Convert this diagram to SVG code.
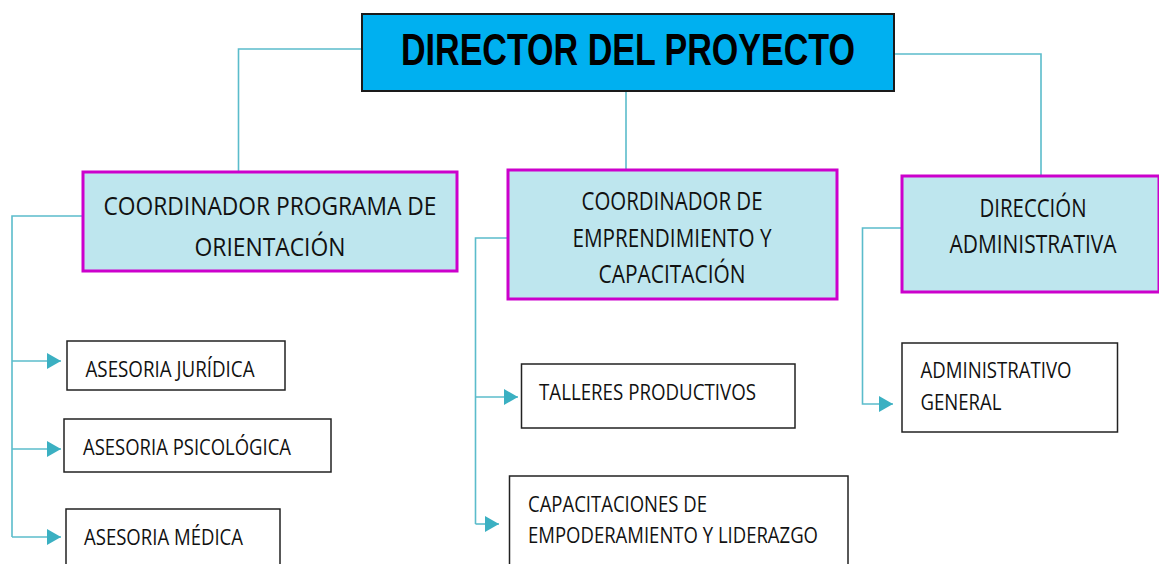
<svg xmlns="http://www.w3.org/2000/svg" width="1159" height="564" viewBox="0 0 1159 564">
<defs>
<style>
.conn{fill:none;stroke:#5BBCCB;stroke-width:1.6}
.arrow{fill:#3BB0C2}
.top{fill:#00B0F0;stroke:#1a1a1a;stroke-width:2}
.coord{fill:#BEE6EE;stroke:#CC00CC;stroke-width:3}
.leaf{fill:#FFFFFF;stroke:#222222;stroke-width:1.5}
.tt{font-family:"Liberation Sans",Arial,sans-serif;font-weight:bold;font-size:45px;fill:#000}
.ct{font-family:"Open Sans","DejaVu Sans",sans-serif;font-size:26px;fill:#111}
.lt{font-family:"Open Sans","DejaVu Sans",sans-serif;font-size:22px;fill:#111}
</style>
<marker id="ah" viewBox="0 0 14 16" refX="14" refY="8" markerWidth="14" markerHeight="16" markerUnits="userSpaceOnUse" orient="auto">
<path d="M0,0 L14,8 L0,16 Z" class="arrow"/>
</marker>
</defs>
<rect width="1159" height="564" fill="#FFFFFF"/>
<g id="connectors">
<polyline class="conn" points="362,49 238.5,49 238.5,171"/>
<line class="conn" x1="626" y1="91" x2="626" y2="170"/>
<polyline class="conn" points="894,54 1041,54 1041,176"/>
<polyline class="conn" points="83,216 12,216 12,537"/>
<line class="conn" x1="12" y1="361" x2="61" y2="361" marker-end="url(#ah)"/>
<line class="conn" x1="12" y1="449" x2="61" y2="449" marker-end="url(#ah)"/>
<line class="conn" x1="12" y1="537" x2="61" y2="537" marker-end="url(#ah)"/>
<polyline class="conn" points="508,238 475.5,238 475.5,524"/>
<line class="conn" x1="475.5" y1="397" x2="518" y2="397" marker-end="url(#ah)"/>
<line class="conn" x1="475.5" y1="524" x2="499" y2="524" marker-end="url(#ah)"/>
<polyline class="conn" points="902,228 862.5,228 862.5,404 893,404" marker-end="url(#ah)"/>
</g>
<g id="director">
<rect class="top" x="362" y="14" width="532" height="77"/>
<text class="tt" x="628" y="65" text-anchor="middle" textLength="454" lengthAdjust="spacingAndGlyphs">DIRECTOR DEL PROYECTO</text>
</g>
<g id="coord-orientacion">
<rect class="coord" x="83" y="172" width="374" height="99"/>
<text class="ct" x="270" y="215" text-anchor="middle" textLength="333" lengthAdjust="spacingAndGlyphs">COORDINADOR PROGRAMA DE</text>
<text class="ct" x="270" y="256" text-anchor="middle" textLength="151" lengthAdjust="spacingAndGlyphs">ORIENTACIÓN</text>
</g>
<g id="coord-emprendimiento">
<rect class="coord" x="508" y="170" width="329" height="129"/>
<text class="ct" x="672" y="210" text-anchor="middle" textLength="181" lengthAdjust="spacingAndGlyphs">COORDINADOR DE</text>
<text class="ct" x="672" y="247" text-anchor="middle" textLength="199" lengthAdjust="spacingAndGlyphs">EMPRENDIMIENTO Y</text>
<text class="ct" x="672" y="283" text-anchor="middle" textLength="147" lengthAdjust="spacingAndGlyphs">CAPACITACIÓN</text>
</g>
<g id="direccion-administrativa">
<rect class="coord" x="902" y="176" width="257" height="116"/>
<text class="ct" x="1033" y="217" text-anchor="middle" textLength="107" lengthAdjust="spacingAndGlyphs">DIRECCIÓN</text>
<text class="ct" x="1033" y="253" text-anchor="middle" textLength="167" lengthAdjust="spacingAndGlyphs">ADMINISTRATIVA</text>
</g>
<g id="asesoria-juridica">
<rect class="leaf" x="67" y="341" width="218" height="49"/>
<text class="lt" x="85.5" y="377" textLength="169" lengthAdjust="spacingAndGlyphs">ASESORIA JURÍDICA</text>
</g>
<g id="asesoria-psicologica">
<rect class="leaf" x="64" y="419" width="267" height="53"/>
<text class="lt" x="83" y="455" textLength="208" lengthAdjust="spacingAndGlyphs">ASESORIA PSICOLÓGICA</text>
</g>
<g id="asesoria-medica">
<rect class="leaf" x="66" y="509" width="214" height="70"/>
<text class="lt" x="84" y="545" textLength="159" lengthAdjust="spacingAndGlyphs">ASESORIA MÉDICA</text>
</g>
<g id="talleres-productivos">
<rect class="leaf" x="521.5" y="364" width="273.5" height="64"/>
<text class="lt" x="539" y="400" textLength="217" lengthAdjust="spacingAndGlyphs">TALLERES PRODUCTIVOS</text>
</g>
<g id="capacitaciones">
<rect class="leaf" x="509.5" y="476" width="338.5" height="100"/>
<text class="lt" x="528" y="512" textLength="179" lengthAdjust="spacingAndGlyphs">CAPACITACIONES DE</text>
<text class="lt" x="528" y="543" textLength="290" lengthAdjust="spacingAndGlyphs">EMPODERAMIENTO Y LIDERAZGO</text>
</g>
<g id="administrativo-general">
<rect class="leaf" x="902" y="343" width="215.5" height="89"/>
<text class="lt" x="920.5" y="378" textLength="151" lengthAdjust="spacingAndGlyphs">ADMINISTRATIVO</text>
<text class="lt" x="920.5" y="410" textLength="81" lengthAdjust="spacingAndGlyphs">GENERAL</text>
</g>
</svg>
